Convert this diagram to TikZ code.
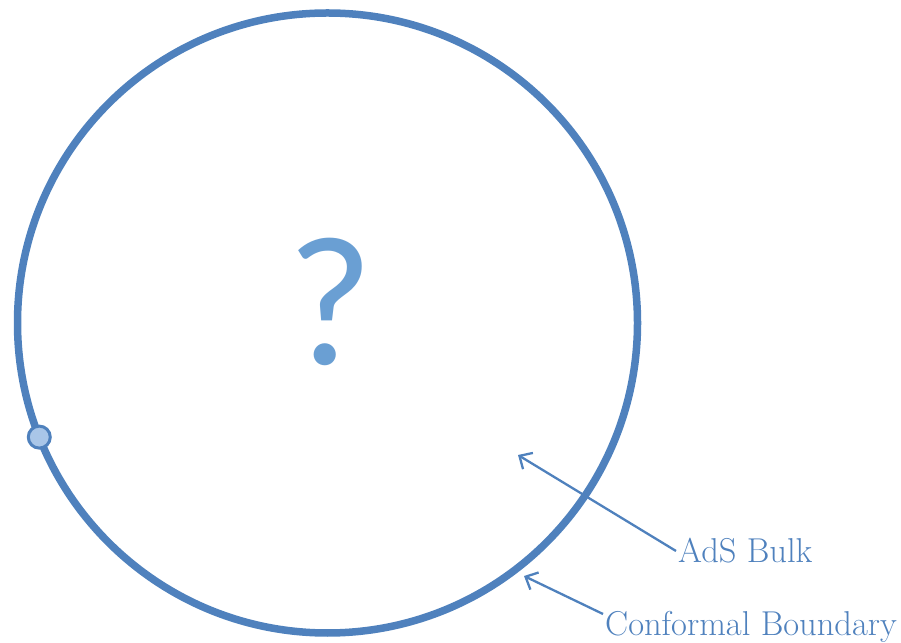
\documentclass[tikz,border=0pt]{standalone}
\usepackage{fontspec}
\usepackage{xcolor}
\usepackage{tikz}
\usetikzlibrary{arrows.meta, calc}
\newfontfamily\qfont{Carlito}
\definecolor{rim}{HTML}{4F81BD}
\definecolor{qmark}{HTML}{6A9FD3}
\definecolor{dotfill}{HTML}{A9C6E8}

\begin{document}
\begin{tikzpicture}[x=1pt, y=1pt, >={Straight Barb[length=10pt, width=19pt]}]
  \useasboundingbox (0,0) rectangle (901,642);

  % --- the AdS disc and its boundary -----------------------------------------
  \coordinate (c) at (327.5,319);
  \draw[rim, line width=7.5pt] (c) circle[radius=310];
  \node[qmark, font=\qfont\fontsize{185}{190}\selectfont] (q) at ([xshift=3,yshift=21]c) {?};

  % --- boundary insertion point ----------------------------------------------
  \node[circle, draw=rim, fill=dotfill, line width=3pt, minimum size=22pt,
        inner sep=0pt] (pt) at ($(c)+(201.6:310)$) {};

  % --- callouts --------------------------------------------------------------
  \node[rim, anchor=west, inner sep=2pt, font=\fontsize{34.5}{40}\selectfont]
    (bulk) at (676,91) {AdS Bulk};
  \coordinate (bulktip) at (518,187);
  \draw[rim, line width=2.3pt, ->] (bulk.west) -- (bulktip);

  \node[rim, anchor=west, inner sep=2pt, font=\fontsize{34.5}{40}\selectfont]
    (bdy) at (603,15) {Conformal Boundary};
  \coordinate (bdytip) at (524,66);
  \draw[rim, line width=2.3pt, ->] ([yshift=13]bdy.west) -- (bdytip);

\end{tikzpicture}
\end{document}
